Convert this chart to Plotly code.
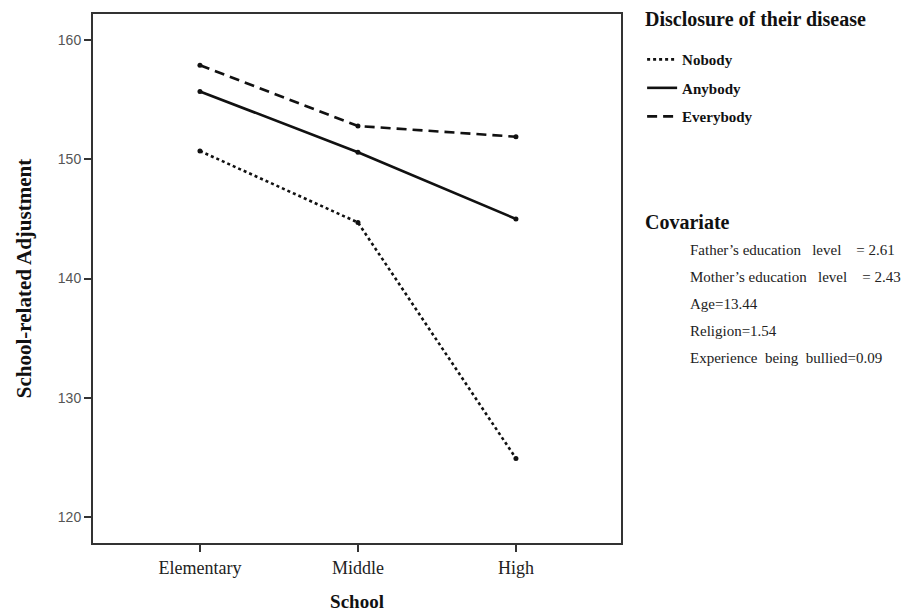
import plotly.graph_objects as go

schools = ["Elementary", "Middle", "High"]
nobody = [150.7, 144.7, 124.9]
anybody = [155.7, 150.6, 145.0]
everybody = [157.9, 152.8, 151.9]
series_names = ["Nobody", "Anybody", "Everybody"]
y_ticks = [120, 130, 140, 150, 160]
nb = "\u00a0"
covariates = [
    "Father\u2019s education " + nb * 2 + "level " + nb * 3 + "= 2.61",
    "Mother\u2019s education " + nb * 2 + "level " + nb * 3 + "= 2.43",
    "Age=13.44",
    "Religion=1.54",
    "Experience  being  bullied=0.09",
]

serif = "Liberation Serif, Times New Roman, serif"
sans = "Liberation Sans, Arial, sans-serif"

fig = go.Figure()
styles = ["dot", "solid", "10px,6px"]
for name, vals, dash in zip(series_names, [nobody, anybody, everybody], styles):
    fig.add_trace(go.Scatter(
        x=[0, 1, 2], y=vals, name="<b>" + name + "</b>", mode="lines",
        legendgroup=name,
        line=dict(color="#111111", width=2.6, dash=dash),
    ))
    fig.add_trace(go.Scatter(
        x=[0, 1, 2], y=vals, mode="markers", showlegend=False, legendgroup=name,
        marker=dict(color="#111111", size=5), hoverinfo="skip",
    ))

fig.update_layout(
    width=909, height=614,
    margin=dict(l=93, r=288, t=14, b=71, autoexpand=False),
    paper_bgcolor="white", plot_bgcolor="white",
    showlegend=True,
    legend=dict(
        x=1.04, xref="paper", xanchor="left", y=0.945, yanchor="top",
        font=dict(family=serif, size=15, color="#111"),
        itemwidth=30, tracegroupgap=6, bgcolor="rgba(0,0,0,0)",
    ),
    xaxis=dict(
        range=[-0.677, 2.665], tickmode="array", tickvals=[0, 1, 2], ticktext=schools,
        showgrid=False, zeroline=False, showline=True, linecolor="#333", linewidth=2,
        mirror=True, ticks="outside", ticklen=7, tickwidth=1.5, tickcolor="#333",
        tickfont=dict(family=serif, size=18, color="#222"),
        title=dict(text="<b>School</b>", font=dict(family=serif, size=19, color="#111"), standoff=18),
    ),
    yaxis=dict(
        range=[117.8, 162.2], tickmode="array", tickvals=y_ticks,
        showgrid=False, zeroline=False, showline=True, linecolor="#333", linewidth=2,
        mirror=True, ticks="outside", ticklen=7, tickwidth=1.5, tickcolor="#333",
        tickfont=dict(family=sans, size=14, color="#555"),
        title=dict(text="<b>School-related Adjustment</b>", font=dict(family=serif, size=21, color="#111"), standoff=20),
    ),
)

fig.add_annotation(xref="paper", yref="paper", x=1.042, y=1.0 - 5 / 529, xanchor="left", yanchor="middle",
                   text="<b>Disclosure of their disease</b>", showarrow=False,
                   font=dict(family=serif, size=20, color="#111"))
fig.add_annotation(xref="paper", yref="paper", x=1.042, y=0.607, xanchor="left", yanchor="middle",
                   text="<b>Covariate</b>", showarrow=False,
                   font=dict(family=serif, size=20, color="#111"))
for i, t in enumerate(covariates):
    fig.add_annotation(xref="paper", yref="paper", x=1.126, y=0.554 - i * 0.051,
                       xanchor="left", yanchor="middle", text=t, showarrow=False,
                       font=dict(family=serif, size=15, color="#222"))

fig.write_html("out.html", config={"displayModeBar": False},
               post_script="document.body.style.margin='0';")
